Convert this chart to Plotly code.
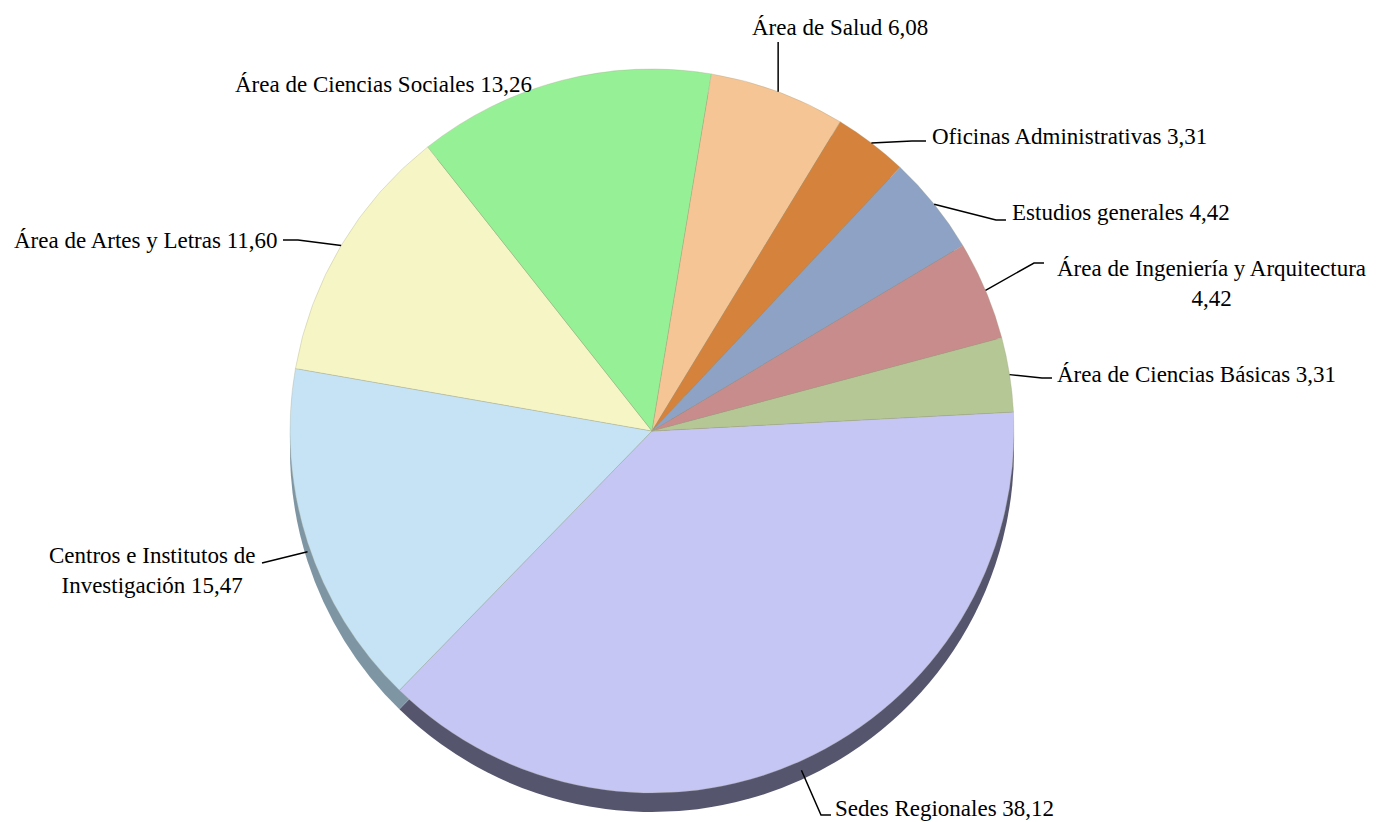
import math
import plotly.graph_objects as go

# ---- data ----
categories = [
    "Sedes Regionales",
    "Centros e Institutos de Investigación",
    "Área de Artes y Letras",
    "Área de Ciencias Sociales",
    "Área de Salud",
    "Oficinas Administrativas",
    "Estudios generales",
    "Área de Ingeniería y Arquitectura",
    "Área de Ciencias Básicas",
]
values = [38.12, 15.47, 11.60, 13.26, 6.08, 3.31, 4.42, 4.42, 3.31]
label_texts = [
    "Sedes Regionales 38,12",
    "Centros e Institutos de<br>Investigación 15,47",
    "Área de Artes y Letras 11,60",
    "Área de Ciencias Sociales 13,26",
    "Área de Salud 6,08",
    "Oficinas Administrativas 3,31",
    "Estudios generales 4,42",
    "Área de Ingeniería y Arquitectura<br>4,42",
    "Área de Ciencias Básicas 3,31",
]

# ---- styles ----
colors = ["#C6C6F5", "#C5E3F5", "#F5F5C5", "#96F096", "#F5C596",
          "#D5823D", "#8DA2C5", "#C98C8C", "#B5C795"]
side_colors = ["#55556E", "#7E96A4", "#8A8A70", "#5A8A5A", "#8A7055",
               "#7A4A22", "#55607A", "#7A5555", "#6A7555"]

W, H = 1381, 822
OFF = 8  # page body margin offset
CX, CY, R = 652, 431, 362
DEPTH = 19
ROTATION = 87
FONT = "Liberation Serif, Times New Roman, serif"
FS = 23

# label layout (pixels): text anchor, alignment, leader attach point, elbow length
label_layout = [
    dict(tx=833, ty=808, xa="left", ya="middle", ax=831, ay=815, elbow=-10, align="left"),
    dict(tx=257, ty=570, xa="right", ya="middle", ax=262, ay=563, elbow=0, align="center"),
    dict(tx=280, ty=240, xa="right", ya="middle", ax=283, ay=240, elbow=15, align="left"),
    dict(tx=383, ty=85, xa="center", ya="middle", ax=None, ay=None, elbow=0, align="left"),
    dict(tx=840, ty=42, xa="center", ya="bottom", ax="edge", ay=42, elbow=0, align="left"),
    dict(tx=930, ty=137, xa="left", ya="middle", ax=926, ay=141, elbow=-14, align="left"),
    dict(tx=1010, ty=213, xa="left", ya="middle", ax=1006, ay=220, elbow=-10, align="left"),
    dict(tx=1211, ty=254, xa="center", ya="top", ax=1044, ay=263, elbow=-10, align="center"),
    dict(tx=1055, ty=374, xa="left", ya="middle", ax=1052, ay=378, elbow=-10, align="left"),
]


def px(x):
    return (x - OFF) / W


def py(y):
    return 1 - (y - OFF) / H


def dom(cx, cy, r):
    return dict(x=[px(cx - r), px(cx + r)], y=[py(cy + r), py(cy - r)])


fig = go.Figure()

# 3D side (shadow) pie
fig.add_trace(go.Pie(
    labels=categories, values=values, sort=False, direction="clockwise",
    rotation=ROTATION, textinfo="none", hoverinfo="skip",
    marker=dict(colors=side_colors, line=dict(width=0)),
    domain=dom(CX, CY + DEPTH, R), showlegend=False,
))
# top face
fig.add_trace(go.Pie(
    labels=categories, values=values, sort=False, direction="clockwise",
    rotation=ROTATION, textinfo="none",
    marker=dict(colors=colors, line=dict(width=0.6, color="rgba(160,160,130,0.5)")),
    domain=dom(CX, CY, R), showlegend=False,
))

total = sum(values)
cum = 0.0
shapes = []
annotations = []
for i, v in enumerate(values):
    mid = ROTATION + (cum + v / 2) / total * 360
    cum += v
    th = math.radians(mid)
    ex = CX + R * math.sin(th)
    ey = CY - R * math.cos(th)
    if 100 < mid % 360 < 260:
        ey += DEPTH * 0.5
    L = label_layout[i]
    if L["ax"] is not None:
        ax = ex if L["ax"] == "edge" else L["ax"]
        ay = L["ay"]
        pts = [(ex, ey)]
        if L["elbow"]:
            pts.append((ax + L["elbow"], ay))
        pts.append((ax, ay))
        path = "M " + " L ".join(f"{px(a):.5f},{py(b):.5f}" for a, b in pts)
        shapes.append(dict(type="path", path=path, xref="paper", yref="paper",
                           line=dict(color="black", width=1.5)))
    annotations.append(dict(
        text=label_texts[i], x=px(L["tx"]), y=py(L["ty"]), xref="paper", yref="paper",
        xanchor=L["xa"], yanchor=L["ya"], align=L["align"], showarrow=False,
        font=dict(family=FONT, size=FS, color="black"),
    ))

fig.update_layout(
    width=W, height=H, margin=dict(l=0, r=0, t=0, b=0),
    paper_bgcolor="white", plot_bgcolor="white",
    shapes=shapes, annotations=annotations, showlegend=False,
)

fig.write_html("out.html")
